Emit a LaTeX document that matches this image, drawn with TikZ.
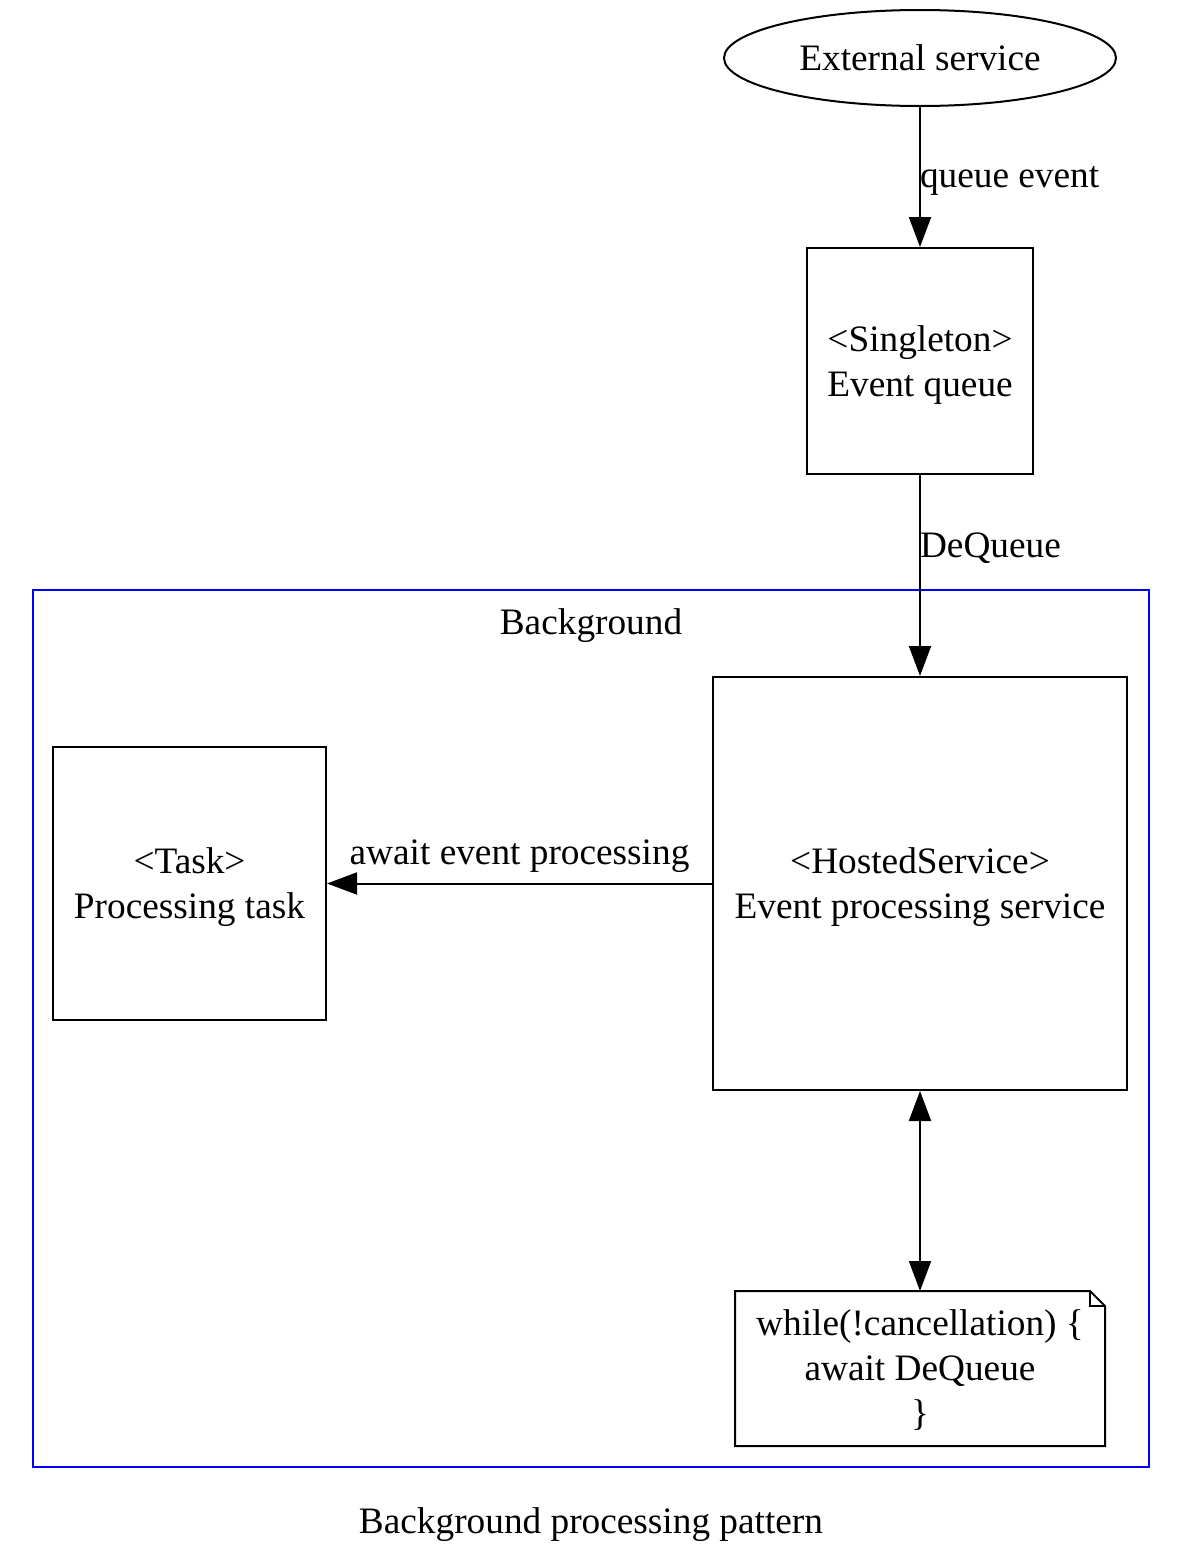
\documentclass[tikz,border=0pt]{standalone}
\usepackage{fontspec}
\setmainfont{Liberation Serif}
\usetikzlibrary{arrows.meta,shapes.geometric}
\begin{document}
\begin{tikzpicture}[x=1pt,y=-1pt,
  every node/.style={font=\fontsize{37.3}{45}\selectfont, inner sep=0pt},
  box/.style={draw, line width=2pt},
  txt/.style={align=center},
  conn/.style={line width=2pt, -{Triangle[length=30pt,width=22pt]}}]
\useasboundingbox (0,0) rectangle (1182,1566);
% cluster
\draw[blue, line width=2pt] (33,590) rectangle (1149,1467);
\node (bg) at (591,626) {Background};
% nodes
\node[draw, ellipse, line width=2pt, minimum width=392pt, minimum height=96pt] (ext) at (920,58) {};
\node (extT) at (920,58) {External service};
\node[box, minimum width=226pt, minimum height=226pt] (queue) at (920,361) {};
\node[txt] (queueT) at (920,365) {<Singleton>\\Event queue};
\node[box, minimum width=414pt, minimum height=413pt] (hosted) at (920,883.5) {};
\node[txt] (hostedT) at (920,887.5) {<HostedService>\\Event processing service};
\node[box, minimum width=273pt, minimum height=273pt] (task) at (189.5,883.5) {};
\node[txt] (taskT) at (189.5,887.5) {<Task>\\Processing task};
% note
\coordinate (nA) at (735,1291);
\coordinate (nB) at (1090,1291);
\coordinate (nC) at (1105,1306);
\coordinate (nD) at (1105,1446);
\coordinate (nE) at (735,1446);
\draw[line width=2pt, line join=miter] (nA) -- (nB) -- (nC) -- (nD) -- (nE) -- cycle;
\draw[line width=2pt] (nB) -- (1090,1306) -- (nC);
\node[txt] (note) at (920,1370.5) {while(!cancellation) \{\\await DeQueue\\\}};
\coordinate (noteTop) at (920,1291);
% connectors
\draw[conn] (ext.south) -- node[right, xshift=-1pt, yshift=-4pt] {queue event} (queue.north);
\draw[conn] (queue.south) -- node[pos=0.35, right, xshift=-1pt, yshift=-3pt] {DeQueue} (hosted.north);
\draw[conn] (hosted.west) -- node[above, yshift=10pt] {await event processing} (task.east);
\draw[line width=2pt, {Triangle[length=30pt,width=22pt]}-{Triangle[length=30pt,width=22pt]}] (hosted.south) -- (noteTop);
% caption
\node (cap) at (591,1525) {Background processing pattern};
\end{tikzpicture}
\end{document}
